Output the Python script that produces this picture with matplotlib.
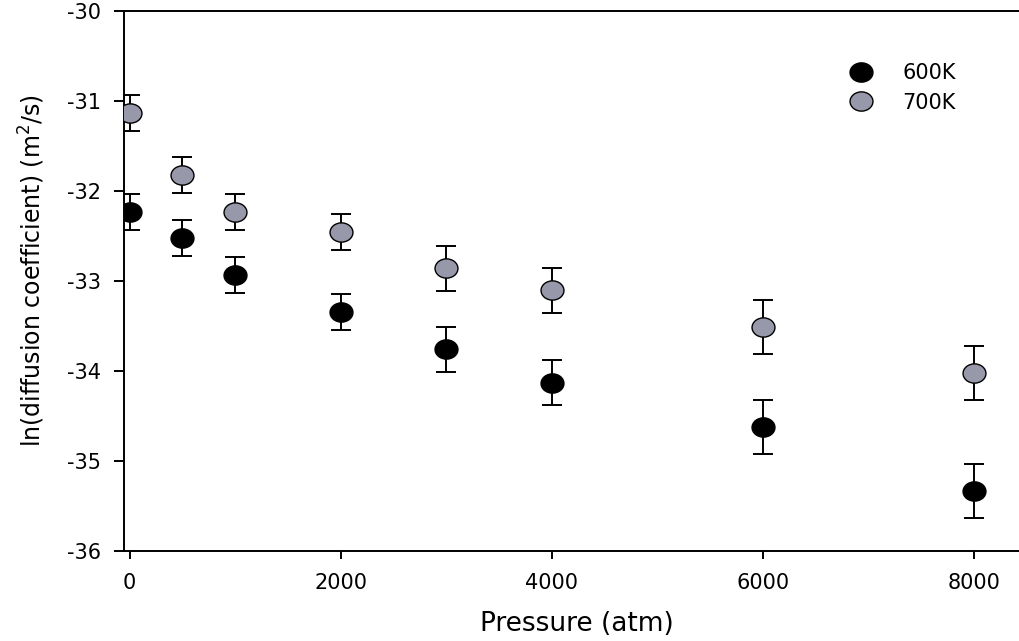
import matplotlib
matplotlib.use("Agg")
import matplotlib.pyplot as plt
from matplotlib.lines import Line2D
from matplotlib.path import Path
from matplotlib.transforms import Affine2D

plt.rcParams['font.family'] = ['DejaVu Sans']
plt.rcParams['axes.unicode_minus'] = False

pressure = [0, 500, 1000, 2000, 3000, 4000, 6000, 8000]
y600 = [-32.23, -32.52, -32.93, -33.34, -33.76, -34.13, -34.62, -35.33]
err600 = [0.20, 0.20, 0.20, 0.20, 0.25, 0.25, 0.30, 0.30]
y700 = [-31.13, -31.82, -32.23, -32.46, -32.86, -33.10, -33.51, -34.02]
err700 = [0.20, 0.20, 0.20, 0.20, 0.25, 0.25, 0.30, 0.30]
xticks = [0, 2000, 4000, 6000, 8000]
yticks = [-36, -35, -34, -33, -32, -31, -30]
labels = ['600K', '700K']

# slightly wide ellipse marker
ellipse = Path.unit_circle().transformed(Affine2D().scale(1.0, 0.84))

fig = plt.figure(figsize=(10.19, 6.41), dpi=100)
ax = fig.add_axes([0.1217, 0.1404, 0.8783, 0.8424])

gray = '#9898ab'
ax.errorbar(pressure, y600, yerr=err600, fmt='none', ecolor='black',
            elinewidth=1.4, capsize=7, capthick=1.4, zorder=2)
ax.errorbar(pressure, y700, yerr=err700, fmt='none', ecolor='black',
            elinewidth=1.4, capsize=7, capthick=1.4, zorder=2)
ax.plot(pressure, y600, marker=ellipse, ms=16.5, mfc='black', mec='black',
        mew=1.0, ls='none', zorder=3)
ax.plot(pressure, y700, marker=ellipse, ms=16.5, mfc=gray, mec='black',
        mew=1.0, ls='none', zorder=3)

ax.set_xlim(-52, 8423)
ax.set_ylim(-36, -30)
ax.set_xticks(xticks)
ax.set_yticks(yticks)
ax.tick_params(axis='both', direction='out', labelsize=15, width=1.4)
ax.tick_params(axis='y', length=7, pad=9.5)
ax.tick_params(axis='x', length=6, pad=9.5)
ax.spines['right'].set_visible(False)
for s in ['left', 'bottom', 'top']:
    ax.spines[s].set_linewidth(1.4)

ax.set_xlabel('Pressure (atm)', fontsize=19)
ax.set_ylabel('ln(diffusion coefficient) (m$^2$/s)', fontsize=17)
ax.yaxis.set_label_coords(-0.086, 0.52)
ax.xaxis.set_label_coords(0.506, -0.112)
ax.xaxis.label.set_va('top')

handles = [Line2D([], [], marker=ellipse, ls='none', ms=16.5, mfc='black', mec='black'),
           Line2D([], [], marker=ellipse, ls='none', ms=16.5, mfc=gray, mec='black')]
ax.legend(handles, labels, frameon=False, fontsize=15,
          loc='center left', bbox_to_anchor=(0.791, 0.8575),
          handletextpad=0.97, labelspacing=0.45, borderaxespad=0)

fig.savefig('out.png', dpi=100)
